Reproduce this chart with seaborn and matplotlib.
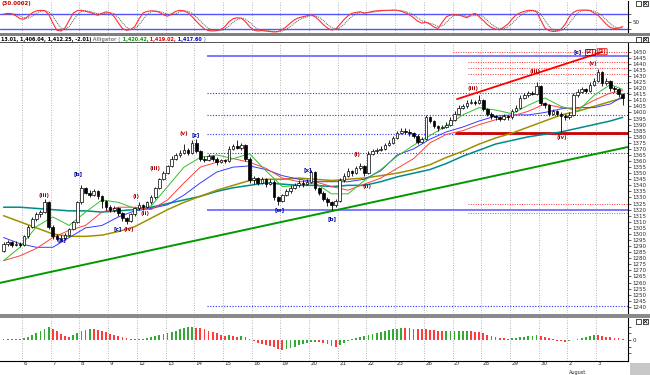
import numpy as np
import pandas as pd
import matplotlib
matplotlib.use("Agg")
import matplotlib.pyplot as plt
from matplotlib.patches import Rectangle
from matplotlib.lines import Line2D
from matplotlib.transforms import blended_transform_factory, ScaledTranslation
import seaborn as sns

# hourly bars, 7 per session
first_open = 1286
closes = [1292, 1293, 1291, 1292, 1291,
          1298, 1306, 1312, 1316, 1318, 1326, 1306,
          1298, 1296, 1297, 1299, 1304, 1310, 1326,
          1338, 1334, 1332, 1335, 1331, 1327, 1322,
          1320, 1321, 1317, 1313, 1311, 1316, 1321,
          1324, 1322, 1326, 1330, 1338, 1345, 1350,
          1356, 1362, 1365, 1367, 1369, 1367, 1375,
          1368, 1362, 1361, 1364, 1362, 1359, 1361,
          1360, 1370, 1372, 1371, 1373, 1362, 1344,
          1346, 1342, 1345, 1341, 1343, 1330, 1327,
          1332, 1335, 1338, 1340, 1342, 1341, 1343,
          1351, 1338, 1334, 1329, 1326, 1324, 1327,
          1344, 1348, 1352, 1350, 1354, 1356, 1350,
          1366, 1368, 1369, 1370, 1373, 1375, 1379,
          1383, 1385, 1384, 1383, 1381, 1376, 1378,
          1396, 1393, 1389, 1387, 1388, 1390, 1394,
          1399, 1404, 1405, 1408, 1409, 1408, 1410,
          1403, 1399, 1397, 1396, 1395, 1397, 1396,
          1401, 1404, 1412, 1414, 1416, 1415, 1422,
          1408, 1406, 1399, 1401, 1399, 1397, 1396,
          1398, 1414, 1417, 1419, 1418, 1423, 1426,
          1433, 1424, 1426, 1420, 1419, 1415, 1412]
highs = [1293, 1295, 1294, 1294, 1293,
         1299, 1307, 1314, 1318, 1320, 1329, 1327,
         1307, 1300, 1299, 1301, 1305, 1311, 1327,
         1340, 1339, 1336, 1337, 1336, 1332, 1328,
         1324, 1323, 1322, 1318, 1314, 1317, 1322,
         1326, 1325, 1327, 1332, 1339, 1346, 1352,
         1357, 1364, 1367, 1369, 1374, 1371, 1377,
         1378, 1369, 1364, 1366, 1365, 1363, 1362,
         1362, 1372, 1374, 1377, 1375, 1374, 1363,
         1348, 1347, 1347, 1346, 1345, 1344, 1331,
         1333, 1337, 1340, 1342, 1344, 1344, 1345,
         1353, 1352, 1339, 1335, 1330, 1327, 1329,
         1346, 1350, 1354, 1353, 1356, 1358, 1357,
         1368, 1370, 1371, 1372, 1375, 1377, 1381,
         1385, 1387, 1387, 1386, 1384, 1382, 1380,
         1398, 1397, 1394, 1390, 1390, 1392, 1396,
         1401, 1406, 1407, 1410, 1411, 1410, 1414,
         1411, 1404, 1400, 1398, 1397, 1399, 1398,
         1403, 1406, 1414, 1416, 1418, 1418, 1425,
         1423, 1409, 1407, 1403, 1402, 1400, 1399,
         1400, 1416, 1419, 1421, 1420, 1425, 1428,
         1436, 1434, 1428, 1427, 1422, 1420, 1416]
lows = [1285, 1290, 1289, 1290, 1289,
        1290, 1297, 1305, 1311, 1314, 1317, 1304,
        1296, 1294, 1294, 1295, 1298, 1303, 1309,
        1325, 1333, 1330, 1331, 1329, 1321, 1320,
        1318, 1318, 1315, 1311, 1308, 1310, 1315,
        1320, 1320, 1321, 1325, 1329, 1337, 1344,
        1349, 1355, 1361, 1363, 1366, 1365, 1366,
        1367, 1360, 1359, 1360, 1360, 1357, 1358,
        1358, 1359, 1369, 1370, 1369, 1360, 1342,
        1341, 1340, 1341, 1339, 1340, 1328, 1324,
        1326, 1331, 1334, 1337, 1339, 1339, 1340,
        1342, 1336, 1332, 1327, 1323, 1320, 1322,
        1326, 1343, 1347, 1348, 1349, 1353, 1348,
        1349, 1365, 1367, 1368, 1369, 1372, 1374,
        1378, 1382, 1382, 1381, 1379, 1374, 1375,
        1377, 1391, 1387, 1385, 1386, 1387, 1389,
        1393, 1398, 1403, 1404, 1407, 1406, 1407,
        1401, 1397, 1395, 1394, 1393, 1394, 1394,
        1395, 1400, 1403, 1411, 1413, 1414, 1414,
        1406, 1404, 1397, 1398, 1397, 1384, 1394,
        1395, 1397, 1413, 1416, 1416, 1417, 1422,
        1425, 1422, 1423, 1418, 1417, 1413, 1406]

day_labels = ['6', '7', '8', '9', '12', '13', '14', '15', '16', '19', '20',
              '21', '22', '23', '26', '27', '28', '29', '30', '2', '3']
month_label = 'August'
month_day = '2'
bars_before_first_day = 5
bars_per_day = 7

# moving averages
ma_bars = list(range(0, 149, 4)) + [151]
lips = [1278, 1289, 1306, 1314, 1307, 1318, 1328, 1326, 1321, 1323,
        1339, 1355, 1363, 1365, 1362, 1366, 1352, 1339, 1340, 1342,
        1333, 1333, 1344, 1353, 1364, 1373, 1381, 1389, 1398, 1404,
        1402, 1399, 1406, 1412, 1405, 1401, 1414, 1423, 1419]
teeth = [1278, 1282, 1288, 1297, 1303, 1307, 1318, 1322, 1322, 1320,
         1328, 1342, 1355, 1359, 1362, 1359, 1354, 1346, 1343, 1343,
         1339, 1336, 1341, 1346, 1354, 1362, 1375, 1382, 1385, 1390,
         1394, 1397, 1401, 1407, 1404, 1403, 1410, 1416, 1418]
jaw = [1297, 1292, 1289, 1289, 1297, 1305, 1307, 1314, 1319, 1321,
       1324, 1332, 1342, 1351, 1355, 1356, 1353, 1348, 1345, 1343,
       1343, 1343, 1345, 1352, 1365, 1370, 1378, 1384, 1388, 1393,
       1397, 1398, 1398, 1400, 1403, 1404, 1404, 1407, 1413]
ma_mid = [1315, 1310, 1305, 1300, 1298, 1298, 1299, 1302, 1306, 1313,
          1320, 1326, 1331, 1336, 1340, 1344, 1345, 1345, 1346, 1345,
          1344, 1345, 1346, 1348, 1350, 1353, 1357, 1363, 1368, 1374,
          1379, 1383, 1388, 1393, 1398, 1401, 1405, 1409, 1412]
ma_long = [1322, 1322, 1321, 1320, 1319, 1319, 1318, 1319, 1320, 1322,
           1325, 1328, 1331, 1335, 1338, 1340, 1342, 1341, 1340, 1340,
           1339, 1340, 1340, 1343, 1347, 1350, 1353, 1358, 1364, 1369,
           1374, 1377, 1380, 1382, 1384, 1387, 1390, 1393, 1396]

stoch_k = [80, 84, 82, 74, 62,
           60, 72, 86, 94, 96, 95, 80,
           45, 15, 12, 25, 55, 85, 95,
           96, 92, 88, 82, 76, 84, 90,
           86, 70, 45, 22, 15, 18, 30,
           60, 85, 92, 94, 93, 88, 78,
           72, 82, 92, 96, 94, 86, 70,
           52, 35, 20, 14, 12, 14, 18,
           30, 50, 62, 66, 64, 50, 30,
           16, 12, 14, 12, 10, 8, 10,
           18, 30, 45, 58, 66, 70, 74,
           78, 70, 55, 38, 24, 16, 20,
           38, 58, 74, 84, 88, 90, 84,
           88, 92, 94, 95, 96, 96, 97,
           96, 92, 86, 78, 66, 52, 44,
           48, 40, 28, 22, 48, 70, 77,
           78, 77, 72, 66, 78, 84, 70,
           55, 38, 26, 20, 17, 28, 40,
           60, 77, 86, 92, 96, 96, 90,
           57, 25, 14, 10, 12, 20, 40,
           70, 88, 96, 97, 97, 95, 86,
           76, 58, 40, 26, 22, 24, 30]

awesome = [0.8, 1.0, 0.8, 1.2, 1.5,
           3.0, 4.5, 7.5, 10.5, 13.5, 16.5, 19.5,
           17.0, 13.5, 9.0, 6.0, 5.0, 7.5, 10.5,
           13.5, 15.0, 16.5, 16.0, 15.0, 13.5, 12.0,
           9.0, 7.5, 6.0, 4.5, 3.0, 2.2, 1.5,
           0.8, 1.5, 3.0, 4.5, 6.0, 7.5, 9.0,
           10.5, 12.0, 14.0, 16.0, 18.0, 19.0, 19.5,
           18.5, 18.0, 16.5, 14.0, 12.0, 10.0, 7.5,
           6.0, 6.8, 6.0, 5.2, 5.6, 3.8, 1.5,
           -1.5, -3.8, -6.0, -7.5, -9.0, -11.0, -13.5,
           -15.0, -14.0, -12.0, -10.0, -8.0, -6.0, -4.5,
           -3.0, -2.5, -3.0, -4.5, -6.5, -8.5, -10.0,
           -8.0, -5.0, -2.0, 1.0, 3.0, 4.5, 6.0,
           7.5, 9.0, 10.5, 12.0, 13.5, 15.0, 16.2,
           17.2, 17.8, 17.6, 17.3, 17.0, 16.6, 16.2,
           15.8, 15.3, 14.8, 13.2, 12.8, 13.0, 13.2,
           13.4, 13.6, 13.8, 14.0, 13.6, 12.6, 11.4,
           9.8, 8.0, 6.2, 4.6, 3.4, 2.4, 2.0,
           2.6, 3.4, 4.2, 5.0, 5.8, 6.6, 7.5,
           6.0, 4.2, 2.4, 0.8, -1.0, -2.2, -2.8,
           -2.0, -0.5, 1.5, 3.5, 5.2, 6.6, 7.5,
           7.0, 6.0, 5.0, 4.0, 3.2, 2.4, 1.6]

# drawn levels and trend lines (price units, start bar)
blue_solid_levels = [1446.7, 1320.0]
blue_dotted_levels = [1416.3, 1397.9, 1382.3, 1366.6, 1240.8]
blue_levels_start = 49.6
red_dotted_levels = [1449.5, 1441.8, 1436.8, 1431.4, 1424.0, 1324.4]
red_dotted_start = [109.6, 113.3, 113.3, 113.3, 113.3, 113.3]
olive_dotted_level = 1317.0
red_band_level = 1383.3
red_band_start = 110.1
red_trend_bars = [110.6, 146.0]
red_trend_prices = [1411.0, 1449.8]
green_trend_bars = [-0.87, 152.3]
green_trend_prices = [1259.7, 1371.6]

wave_text = ['(iii)', '[b]', '[a]', '(i)', '(ii)', '(iii)', '[c]', '(iv)', '(v)', '[z]',
             '[w]', '[x]', '[b]', '(i)', '(ii)', '(iii)', '(iii)', '(iv)', '(v)', '[c]']
wave_bar = [9.9, 18.2, 14.3, 32.3, 34.5, 36.9, 27.9, 30.6, 44.0, 46.9,
            67.4, 74.3, 80.1, 86.2, 88.6, 114.5, 129.6, 136.2, 143.8, 140.1]
wave_price = [1332, 1350, 1295, 1331, 1317, 1354, 1304, 1304, 1383, 1382,
              1320, 1353, 1313, 1365, 1339, 1420, 1434, 1379, 1440, 1450]

# ---------------------------------------------------------------
sns.set_style("white")
plt.rcParams['font.family'] = ['DejaVu Sans']

W, H = 650, 375
fig = plt.figure(figsize=(W / 100, H / 100), dpi=100)
fig.patch.set_facecolor('white')

right = 628 / W
ax_top = fig.add_axes([0, 1 - 33 / H, right, 32 / H])
ax = fig.add_axes([0, 1 - 313 / H, right, 270 / H])
ax_low = fig.add_axes([0, 1 - 361 / H, right, 43 / H])

closes = np.array(closes, float)
highs = np.array(highs, float)
lows = np.array(lows, float)
opens = np.r_[first_open, closes[:-1]]
bars = np.arange(len(closes))
xlim = (-0.87, 152.3)
day_edges = bars_before_first_day - 0.5 + bars_per_day * np.arange(len(day_labels))

grid_kw = dict(color='#9a9a9a', lw=0.6, ls=(0, (1, 2)), zorder=0)
for a in (ax_top, ax, ax_low):
    a.set_xlim(*xlim)
    for e in day_edges:
        a.axvline(e, **grid_kw)
    for s in ('left', 'top', 'bottom'):
        a.spines[s].set_visible(False)
    a.spines['right'].set_color('black')
    a.spines['right'].set_linewidth(0.8)
    a.yaxis.tick_right()
    a.tick_params(axis='y', direction='out', length=2, width=0.5, labelsize=4, pad=1)
    a.set_xticks([])

# ---- stochastic panel ----
k = pd.Series(stoch_k, dtype=float)
d = k.rolling(3, min_periods=1).mean()
ax_top.axhline(80, color='#5555ff', lw=1.0, zorder=1)
ax_top.axhline(20, color='#5555ff', lw=1.0, zorder=1)
sns.lineplot(x=bars, y=d.values, ax=ax_top, color='#555555', lw=0.7, ls=(0, (1, 1)), zorder=2)
sns.lineplot(x=bars, y=k.values, ax=ax_top, color='#ff3030', lw=0.8, zorder=3)
ax_top.set_ylim(4, 134)
ax_top.set_yticks([20, 50, 80])
ax_top.set_yticklabels(['', '50', ''])
ax_top.set_ylabel('')

# ---- price panel ----
ax.set_ylim(1234.9, 1457.2)
ax.set_yticks(np.arange(1240, 1451, 5))
ax.set_ylabel('')

for lvl in blue_solid_levels:
    ax.hlines(lvl, blue_levels_start, xlim[1], color='#7070ff', lw=1.3, zorder=1)
for lvl in blue_dotted_levels:
    ax.hlines(lvl, blue_levels_start, xlim[1], color='#3030ff', lw=0.8, ls=(0, (1, 1.5)), zorder=1)
for lvl, st in zip(red_dotted_levels, red_dotted_start):
    ax.hlines(lvl, st, xlim[1], color='#ff3030', lw=0.7, ls=(0, (1, 1.5)), zorder=1)
ax.hlines(olive_dotted_level, red_dotted_start[-1], xlim[1], color='#b08000', lw=0.7,
          ls=(0, (1, 1.5)), zorder=1)
ax.hlines(red_band_level, red_band_start, xlim[1], color='#cc0000', lw=2.0, zorder=2)

sns.lineplot(x=green_trend_bars, y=green_trend_prices, ax=ax, color='#009a00', lw=1.4, zorder=2)
sns.lineplot(x=red_trend_bars, y=red_trend_prices, ax=ax, color='#ff0000', lw=1.3, zorder=2)

ma_style = [(ma_long, '#008b8b', 1.1), (ma_mid, '#a09000', 1.1),
            (jaw, '#3a3aff', 0.7), (teeth, '#ff4040', 0.7), (lips, '#30c030', 0.7)]
for vals, col, lw in ma_style:
    sns.lineplot(x=ma_bars, y=vals, ax=ax, color=col, lw=lw, zorder=3)

up = closes >= opens
ax.vlines(bars, lows, highs, color='black', lw=0.6, zorder=4)
ax.bar(bars[up], (closes - opens)[up], bottom=opens[up], width=0.62,
       color='white', edgecolor='black', lw=0.5, zorder=5)
ax.bar(bars[~up], (closes - opens)[~up], bottom=opens[~up], width=0.62,
       color='black', edgecolor='black', lw=0.5, zorder=5)

for txt, b, p in zip(wave_text, wave_bar, wave_price):
    col = '#000099' if txt.startswith('[') else '#aa0000'
    ax.text(b, p, txt, color=col, fontsize=4, fontweight='bold', ha='center', va='center', zorder=6)
ax.text(143.0, 1450, '(2)', color='#990000', fontsize=4, fontweight='bold', ha='center', va='center',
        zorder=6, bbox=dict(boxstyle='square,pad=0.1', fc='none', ec='#990000', lw=0.6))
ax.text(146.0, 1450, '(2)', color='#dd0000', fontsize=4, fontweight='bold', ha='center', va='center',
        zorder=6, bbox=dict(boxstyle='round,pad=0.1', fc='none', ec='#dd0000', lw=0.6))

# ---- awesome oscillator panel ----
ao = np.array(awesome)
rising = np.r_[True, ao[1:] >= ao[:-1]]
ax_low.bar(bars, ao, width=0.45, color=np.where(rising, '#33aa33', '#ff3b3b'), lw=0, zorder=2)
ax_low.set_ylim(-31.5, 33)
ax_low.set_yticks([-20, -10, 0, 10, 20])
ax_low.set_yticklabels(['', '', '0', '', ''])
ax_low.spines['bottom'].set_visible(True)
ax_low.spines['bottom'].set_color('black')
ax_low.spines['bottom'].set_linewidth(0.8)
ax_low.set_xticks(day_edges)
ax_low.set_xticklabels(day_labels)
ax_low.set_xticks(np.arange(-0.5, 152.5, 1), minor=True)
ax_low.tick_params(axis='x', which='major', direction='out', length=4.5, width=0.6,
                   labelsize=4, pad=-4.3)
ax_low.tick_params(axis='x', which='minor', direction='out', length=2, width=0.5)
shift = ScaledTranslation(1.5 / 100, 0, fig.dpi_scale_trans)
for lab in ax_low.get_xticklabels():
    lab.set_horizontalalignment('left')
    lab.set_transform(lab.get_transform() + shift)
tr = blended_transform_factory(ax_low.transData, ax_low.transAxes)
ax_low.text(day_edges[day_labels.index(month_day)] + 0.3, -0.27, month_label,
            transform=tr, fontsize=3.6, ha='left', va='center')

# ---- frame decorations ----
fig.add_artist(Rectangle((0, 1 - 35.5 / H), 1, 2.5 / H, transform=fig.transFigure,
                         color='#808080', lw=0))
fig.add_artist(Rectangle((0, 1 - 43 / H), 1, 1 / H, transform=fig.transFigure,
                         color='#555555', lw=0))
fig.add_artist(Rectangle((0, 1 - 318 / H), 1, 4 / H, transform=fig.transFigure,
                         color='#8a8a8a', lw=0))
fig.add_artist(Rectangle((630 / W, 0), 20 / W, 12 / H, transform=fig.transFigure,
                         color='#c8c8c8', lw=0))
for ytop in (1, 37, 319):
    for x0 in (636, 643):
        fig.add_artist(Rectangle((x0 / W, 1 - (ytop + 5) / H), 5 / W, 5 / H,
                                 transform=fig.transFigure, fc='white', ec='black', lw=0.5))
    fig.add_artist(Line2D([643.8 / W, 647.2 / W], [1 - (ytop + 4.2) / H, 1 - (ytop + 0.8) / H],
                          transform=fig.transFigure, color='black', lw=0.5))
    fig.add_artist(Line2D([643.8 / W, 647.2 / W], [1 - (ytop + 0.8) / H, 1 - (ytop + 4.2) / H],
                          transform=fig.transFigure, color='black', lw=0.5))

fig.text(2 / W, 1 - 3 / H, '(30.0002)', color='#cc0000', fontsize=4, fontweight='bold',
         ha='left', va='center')

info_parts = [('13.01, 1,406.04, 1,412.25, -2.01)', 'black'),
              (' Alligator (', '#888888'),
              (' 1,420.42,', '#009900'),
              (' 1,419.02,', '#dd0000'),
              (' 1,417.60', '#0000cc'),
              (' )', '#888888')]
renderer = fig.canvas.get_renderer()
xpos = 1 / W
for s, c in info_parts:
    t = fig.text(xpos, 1 - 39 / H, s, color=c, fontsize=3.5, fontweight='bold',
                 ha='left', va='center', family=['Liberation Sans Narrow', 'DejaVu Sans'])
    bb = t.get_window_extent(renderer)
    xpos = bb.x1 / fig.bbox.width

fig.savefig('out.png', dpi=100)
